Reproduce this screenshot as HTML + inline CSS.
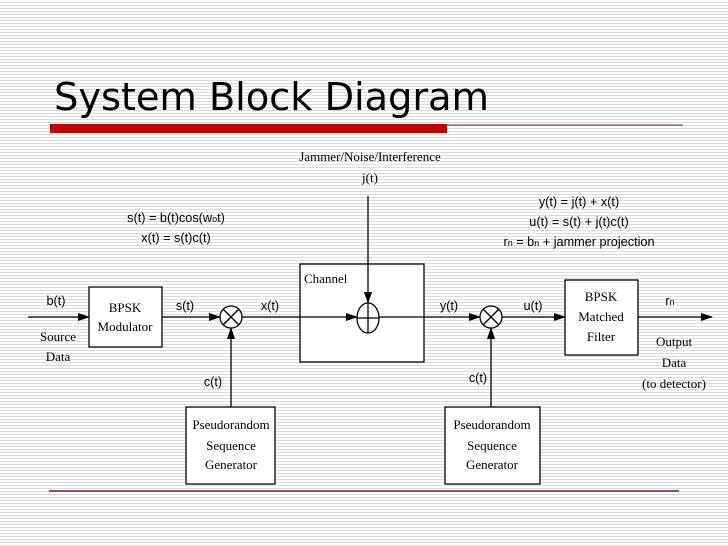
<!DOCTYPE html>
<html><head><meta charset="utf-8"><style>
html,body{margin:0;padding:0}
body{width:728px;height:546px;overflow:hidden;background:repeating-linear-gradient(to bottom,#fff 0,#fff 2px,#dcdcdc 2px,#dcdcdc 3px);}
svg{position:absolute;left:0;top:0}
.s{font-family:"Liberation Serif",serif;font-size:13px}
.a{font-family:"Liberation Sans",sans-serif;font-size:12.7px}
</style></head><body>
<svg width="728" height="546" viewBox="0 0 728 546">
<defs><marker id="ar" markerWidth="12" markerHeight="8" refX="11" refY="4" orient="auto" markerUnits="userSpaceOnUse"><path d="M0,0 L12,4 L0,8 z" fill="#000"/></marker></defs>
<text x="54" y="110" font-family="DejaVu Sans,sans-serif" font-size="38.5" textLength="435" fill="#000">System Block Diagram</text>
<rect x="50" y="124" width="397" height="9" fill="#c00000"/>
<line x1="447" y1="125" x2="683" y2="125" stroke="#6b1f1f" stroke-width="1"/>
<line x1="49" y1="491" x2="679" y2="491" stroke="#6b1f1f" stroke-width="1.5"/>
<g fill="none" stroke="#000" stroke-width="1.3">
<rect x="300" y="264" width="124" height="98" fill="#fff"/>
<rect x="89" y="287" width="73" height="60" fill="#fff"/>
<rect x="565" y="280" width="73" height="75" fill="#fff"/>
<rect x="186" y="407" width="89" height="77" fill="#fff"/>
<rect x="445" y="407" width="95" height="77" fill="#fff"/>
<line x1="28" y1="317" x2="89" y2="317" marker-end="url(#ar)"/>
<line x1="162" y1="317" x2="220" y2="317" marker-end="url(#ar)"/>
<line x1="242" y1="317" x2="357" y2="317" marker-end="url(#ar)"/>
<line x1="379" y1="317" x2="480" y2="317" marker-end="url(#ar)"/>
<line x1="502" y1="317" x2="565" y2="317" marker-end="url(#ar)"/>
<line x1="638" y1="317" x2="712" y2="317" marker-end="url(#ar)"/>
<line x1="368" y1="196" x2="368" y2="303" marker-end="url(#ar)"/>
<line x1="231" y1="407" x2="231" y2="328" marker-end="url(#ar)"/>
<line x1="491" y1="407" x2="491" y2="328" marker-end="url(#ar)"/>
<ellipse cx="368" cy="318" rx="11" ry="15" fill="#fff"/>
<line x1="357" y1="318" x2="379" y2="318"/><line x1="368" y1="303" x2="368" y2="333"/>
<circle cx="231" cy="317" r="11" fill="#fff"/>
<line x1="223" y1="309" x2="239" y2="325"/><line x1="239" y1="309" x2="223" y2="325"/>
<circle cx="491" cy="317" r="11" fill="#fff"/>
<line x1="483" y1="309" x2="499" y2="325"/><line x1="499" y1="309" x2="483" y2="325"/>
</g>
<g class="s" text-anchor="middle">
<text x="370" y="161">Jammer/Noise/Interference</text>
<text x="370" y="182">j(t)</text>
<text x="125" y="312">BPSK</text><text x="125" y="331">Modulator</text>
<text x="601" y="301">BPSK</text><text x="601" y="321">Matched</text><text x="601" y="341">Filter</text>
<text x="231" y="429">Pseudorandom</text><text x="231" y="450">Sequence</text><text x="231" y="469">Generator</text>
<text x="492" y="429">Pseudorandom</text><text x="492" y="450">Sequence</text><text x="492" y="469">Generator</text>
<text x="58" y="341">Source</text><text x="58" y="361">Data</text>
<text x="674" y="346">Output</text><text x="674" y="367">Data</text><text x="674" y="388">(to detector)</text>
</g>
<text class="s" x="304" y="283">Channel</text>
<g class="a" text-anchor="middle">
<text x="56" y="305">b(t)</text>
<text x="185" y="310">s(t)</text>
<text x="270" y="310">x(t)</text>
<text x="213" y="386">c(t)</text>
<text x="449" y="310">y(t)</text>
<text x="533" y="310">u(t)</text>
<text x="478" y="382">c(t)</text>
<text x="670" y="305">r<tspan font-size="9">n</tspan></text>
<text x="176" y="222">s(t) = b(t)cos(w<tspan font-size="9">o</tspan>t)</text>
<text x="176" y="242">x(t) = s(t)c(t)</text>
<text x="579" y="206">y(t) = j(t) + x(t)</text>
<text x="579" y="226">u(t) = s(t) + j(t)c(t)</text>
<text x="579" y="246">r<tspan font-size="9">n</tspan> = b<tspan font-size="9">n</tspan> + jammer projection</text>
</g>
</svg>
</body></html>
